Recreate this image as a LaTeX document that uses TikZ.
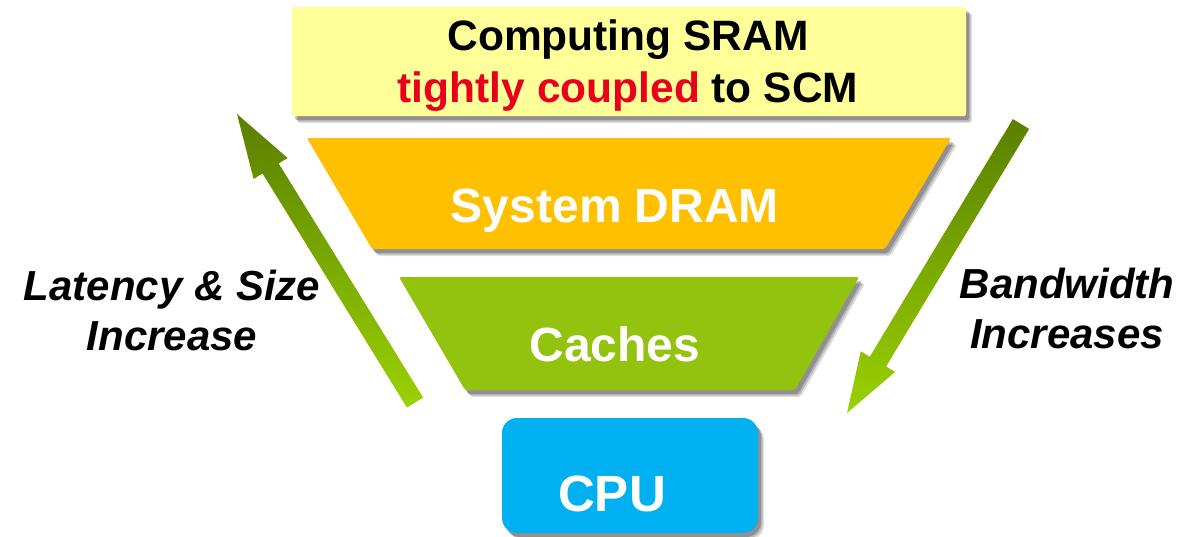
\documentclass[tikz,border=0pt]{standalone}
\usepackage{fontspec}
\setmainfont{Liberation Sans}
\usetikzlibrary{calc,shadows}

\definecolor{sramfill}{HTML}{FFFF99}
\definecolor{hotred}{HTML}{E8001C}
\definecolor{dramfill}{HTML}{FFC000}
\definecolor{cachefill}{HTML}{93C20F}
\definecolor{cpufill}{HTML}{00B0F0}
\definecolor{arrowdark}{HTML}{5A7F00}
\definecolor{arrowlight}{HTML}{9AD200}

\begin{document}
\begin{tikzpicture}[x=1pt,y=-1pt,
  softshadow/.style={
    drop shadow={shadow xshift=6pt,shadow yshift=-7pt,fill=black,opacity=0.12},
    drop shadow={shadow xshift=4.5pt,shadow yshift=-5.5pt,fill=black,opacity=0.18},
    drop shadow={shadow xshift=3pt,shadow yshift=-4pt,fill=black,opacity=0.22}},
  levelbox/.style={rounded corners=2pt,softshadow},
  biglabel/.style={anchor=base,inner sep=0pt,font=\fontsize{42.5}{50}\selectfont\bfseries},
  levellabel/.style={anchor=base,inner sep=0pt,text=white,font=\fontsize{48}{56}\selectfont\bfseries},
  sidelabel/.style={anchor=base,inner sep=0pt,font=\fontsize{42}{50}\selectfont\bfseries\itshape},
  fatarrow/.style={top color=arrowdark,bottom color=arrowlight,draw=none}
]
\useasboundingbox (0,0) rectangle (1204,536);

% memory levels
\node[levelbox,fill=sramfill,minimum width=674pt,minimum height=109pt,inner sep=0pt] (sram) at (629,61.5) {};
\path[levelbox,fill=dramfill] (307,138) -- (951,138) -- (885,249) -- (372,249) -- cycle;
\path[levelbox,fill=cachefill] (399,277) -- (859,277) -- (795,390) -- (465,390) -- cycle;
\node[rounded corners=15pt,softshadow,fill=cpufill,minimum width=256pt,minimum height=115pt,inner sep=0pt] (cpu) at (630,475.5) {};

% level labels
\node[biglabel] (sramA) at (628,50) {Computing SRAM};
\node[biglabel] (sramB) at (628,102) {\textcolor{hotred}{tightly coupled} to SCM};
\node[levellabel] (dram) at (615,222) {System DRAM};
\node[levellabel] (cache) at (615,361) {Caches};
\node[levellabel,font=\fontsize{51}{56}\selectfont\bfseries] (cpulabel) at (612,511) {CPU};

% side annotations
\node[sidelabel] (latA) at (172,300) {Latency \& Size};
\node[sidelabel] (latB) at (172,350) {Increase};
\node[sidelabel] (bwA) at (1067,298) {Bandwidth};
\node[sidelabel] (bwB) at (1067,348) {Increases};

% left arrow: up
\coordinate (lt) at (415,402.5);
\coordinate (lh) at (237,114);
\coordinate (lb) at ($(lh)!64pt!(lt)$);
\path[fatarrow] ($(lt)!9.5pt!90:(lh)$) -- ($(lb)!9.5pt!90:(lh)$) -- ($(lb)!20pt!90:(lh)$) -- (lh)
  -- ($(lb)!20pt!-90:(lh)$) -- ($(lb)!9.5pt!-90:(lh)$) -- ($(lt)!9.5pt!-90:(lh)$) -- cycle;

% right arrow: down
\coordinate (rt) at (1021,124);
\coordinate (rh) at (847,413);
\coordinate (rb) at ($(rh)!60pt!(rt)$);
\path[fatarrow] ($(rt)!9.5pt!90:(rh)$) -- ($(rb)!9.5pt!90:(rh)$) -- ($(rb)!20pt!90:(rh)$) -- (rh)
  -- ($(rb)!20pt!-90:(rh)$) -- ($(rb)!9.5pt!-90:(rh)$) -- ($(rt)!9.5pt!-90:(rh)$) -- cycle;
\end{tikzpicture}
\end{document}
